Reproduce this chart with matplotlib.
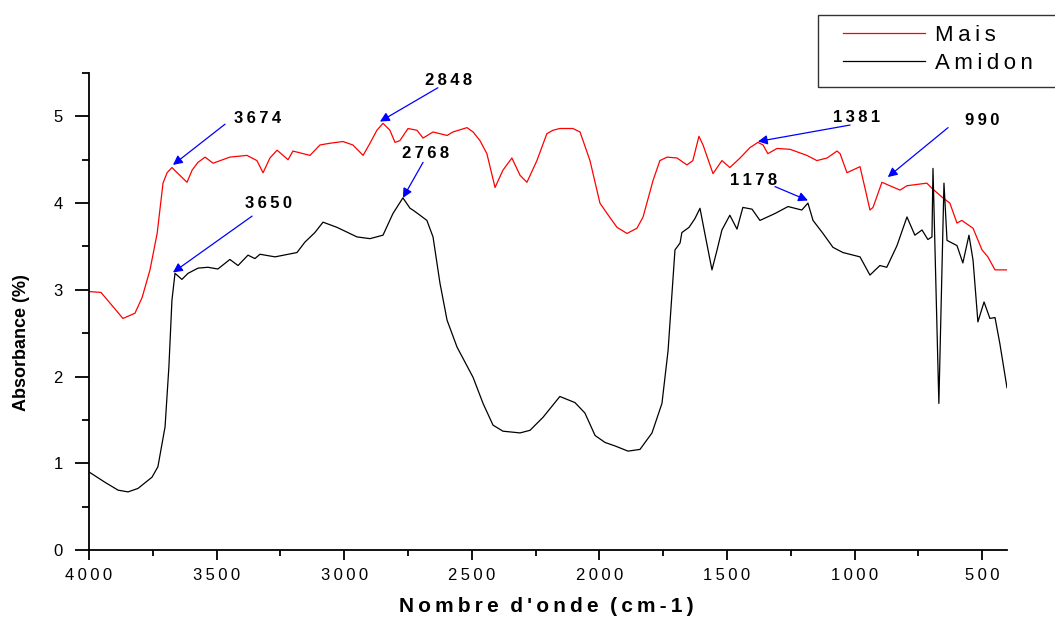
import numpy as np
import matplotlib
matplotlib.use("Agg")
import matplotlib.pyplot as plt
from matplotlib.ticker import MultipleLocator, FuncFormatter
from matplotlib.patches import Rectangle

plt.rcParams['font.family'] = ['Liberation Sans', 'DejaVu Sans']

# Mais (red) spectrum
mais_wn = [4000, 3953, 3867, 3820, 3792, 3761, 3733, 3710, 3694, 3675, 3651, 3616, 3596,
           3573, 3545, 3514, 3448, 3381, 3342, 3318, 3291, 3263, 3220, 3201, 3134, 3095,
           3056, 3005, 2966, 2926, 2899, 2872, 2848, 2821, 2801, 2782, 2750, 2715, 2691,
           2652, 2597, 2574, 2519, 2495, 2468, 2441, 2409, 2378, 2343, 2311, 2284, 2245,
           2206, 2182, 2155, 2104, 2076, 2037, 1998, 1970, 1931, 1892, 1853, 1829, 1790,
           1763, 1735, 1696, 1657, 1634, 1610, 1594, 1555, 1520, 1489, 1449, 1410, 1379,
           1359, 1340, 1304, 1253, 1187, 1148, 1108, 1069, 1057, 1030, 979, 960, 940, 928,
           893, 862, 822, 795, 717, 697, 654, 627, 599, 580, 536, 501, 478, 450, 403]
mais_abs = [2.98, 2.97, 2.67, 2.73, 2.91, 3.23, 3.65, 4.23, 4.35, 4.41, 4.34, 4.24, 4.38,
            4.47, 4.53, 4.46, 4.53, 4.55, 4.49, 4.35, 4.52, 4.61, 4.50, 4.60, 4.55, 4.67,
            4.69, 4.71, 4.67, 4.55, 4.69, 4.84, 4.92, 4.84, 4.70, 4.72, 4.86, 4.84, 4.75,
            4.82, 4.78, 4.82, 4.87, 4.82, 4.72, 4.57, 4.18, 4.38, 4.52, 4.32, 4.24, 4.49,
            4.80, 4.84, 4.86, 4.86, 4.82, 4.49, 4.00, 3.88, 3.72, 3.65, 3.71, 3.84, 4.26,
            4.49, 4.53, 4.52, 4.44, 4.49, 4.77, 4.67, 4.34, 4.49, 4.41, 4.52, 4.64, 4.70,
            4.67, 4.57, 4.63, 4.62, 4.55, 4.49, 4.52, 4.60, 4.57, 4.35, 4.42, 4.18, 3.92, 3.95,
            4.24, 4.20, 4.15, 4.20, 4.23, 4.17, 4.06, 4.00, 3.77, 3.80, 3.71, 3.46, 3.38, 3.23, 3.23]

# Amidon (black) spectrum
amidon_wn = [4000, 3937, 3886, 3847, 3808, 3753, 3730, 3702, 3687, 3675, 3663, 3636, 3612,
             3573, 3534, 3495, 3448, 3416, 3377, 3350, 3330, 3271, 3185, 3154, 3115, 3083,
             3028, 2950, 2899, 2848, 2809, 2770, 2742, 2731, 2703, 2676, 2652, 2625, 2597,
             2558, 2495, 2456, 2417, 2378, 2311, 2272, 2221, 2155, 2096, 2057, 2017, 1978,
             1939, 1888, 1841, 1794, 1755, 1731, 1704, 1684, 1677, 1649, 1626, 1606, 1587,
             1559, 1539, 1520, 1489, 1461, 1438, 1402, 1371, 1312, 1261, 1207, 1183, 1163,
             1124, 1085, 1046, 979, 940, 901, 874, 834, 795, 764, 736, 713, 697, 693, 670,
             650, 638, 599, 576, 552, 536, 517, 493, 470, 450, 431, 403]
amidon_abs = [0.90, 0.78, 0.69, 0.67, 0.71, 0.84, 0.96, 1.42, 2.11, 2.88, 3.19, 3.12, 3.19,
              3.25, 3.26, 3.24, 3.35, 3.28, 3.40, 3.36, 3.41, 3.38, 3.43, 3.55, 3.66, 3.78,
              3.72, 3.61, 3.59, 3.63, 3.88, 4.06, 3.94, 3.92, 3.86, 3.80, 3.61, 3.08, 2.65,
              2.34, 1.99, 1.69, 1.44, 1.37, 1.35, 1.38, 1.53, 1.77, 1.70, 1.58, 1.32, 1.24,
              1.20, 1.14, 1.16, 1.35, 1.69, 2.30, 3.46, 3.54, 3.66, 3.72, 3.82, 3.94, 3.65,
              3.23, 3.46, 3.69, 3.86, 3.70, 3.95, 3.93, 3.80, 3.88, 3.96, 3.92, 4.00, 3.80,
              3.65, 3.49, 3.43, 3.38, 3.17, 3.28, 3.26, 3.51, 3.84, 3.63, 3.69, 3.58, 3.61, 4.40, 1.69,
              4.23, 3.57, 3.51, 3.31, 3.63, 3.34, 2.63, 2.86, 2.67, 2.68, 2.38, 1.87]

# peak labels: text, text pos, arrow tail, arrow head
peak_labels = ['3674', '2848', '2768', '3650', '1381', '990', '1178']
label_pos = [(3338, 4.97), (2590, 5.41), (2680, 4.57), (3295, 4.00), (991, 4.99), (501, 4.95), (1398, 4.26)]
arrow_tail = [(3467, 4.91), (2633, 5.33), (2691, 4.47), (3361, 3.85), (1018, 4.90), (634, 4.87), (1312, 4.19)]
arrow_head = [(3671, 4.44), (2860, 4.94), (2770, 4.06), (3671, 3.20), (1379, 4.71), (870, 4.30), (1183, 4.03)]


def spaced(s):
    return '\u2009'.join(s)


W, H = 1055, 622
fig = plt.figure(figsize=(W / 100, H / 100), dpi=100)
ax = fig.add_axes([89 / W, 1 - 550 / H, (1007 - 89) / W, (550 - 73) / H])

ax.plot(mais_wn, mais_abs, color='#ff0000', lw=0.9, label=spaced('Mais'))
ax.plot(amidon_wn, amidon_abs, color='black', lw=0.9, label=spaced('Amidon'))

for txt, p, t, h in zip(peak_labels, label_pos, arrow_tail, arrow_head):
    ax.text(p[0], p[1], spaced(txt), ha='center', va='center', fontsize=12, fontweight='bold')
    ax.annotate('', xy=h, xytext=t,
                arrowprops=dict(arrowstyle='-|>', color='#0000ff', lw=0.9, mutation_scale=14,
                                shrinkA=0, shrinkB=0))

ax.set_xlim(4000, 403)
ax.set_ylim(0, 5.5)
ax.xaxis.set_major_locator(MultipleLocator(500))
ax.xaxis.set_minor_locator(MultipleLocator(250))
ax.yaxis.set_major_locator(MultipleLocator(1))
ax.yaxis.set_minor_locator(MultipleLocator(0.5))
ax.xaxis.set_major_formatter(FuncFormatter(lambda v, p: spaced(str(int(round(v))))))
ax.yaxis.set_major_formatter(FuncFormatter(lambda v, p: str(int(round(v)))))

for s in ['top', 'right']:
    ax.spines[s].set_visible(False)
for s in ['left', 'bottom']:
    ax.spines[s].set_linewidth(1.3)

ax.tick_params(axis='x', which='major', direction='out', length=7, width=1.3, labelsize=12, pad=6)
ax.tick_params(axis='x', which='minor', direction='out', length=4, width=1.3)
ax.tick_params(axis='y', which='major', direction='out', length=10, width=1.3, labelsize=12, pad=9)
ax.tick_params(axis='y', which='minor', direction='out', length=5, width=1.3)

fig.text(546 / W, 1 - 607 / H, 'N\u2009o\u2009m\u2009b\u2009r\u2009e  d\u2009\'\u2009o\u2009n\u2009d\u2009e  (\u2009c\u2009m\u2009-\u20091\u2009)',
         ha='center', va='center', fontsize=15, fontweight='bold')
fig.text(22 / W, 1 - 343 / H, 'Absorbance (%)', rotation=90,
         ha='center', va='center', fontsize=13, fontweight='bold')

# legend box runs off the right edge in the original
fig.add_artist(Rectangle((818 / W, 1 - 87 / H), (W + 20 - 818) / W, 72 / H,
                         transform=fig.transFigure, fill=False, edgecolor='#333333',
                         lw=1.0, clip_on=False))
leg = ax.legend(loc='center left', bbox_to_anchor=(843 / W, 1 - 49.5 / H),
                bbox_transform=fig.transFigure, frameon=False,
                fontsize=16, handlelength=3.7, handletextpad=0.45,
                borderpad=0, labelspacing=0.33, borderaxespad=0)

fig.savefig('out.png', dpi=100)
